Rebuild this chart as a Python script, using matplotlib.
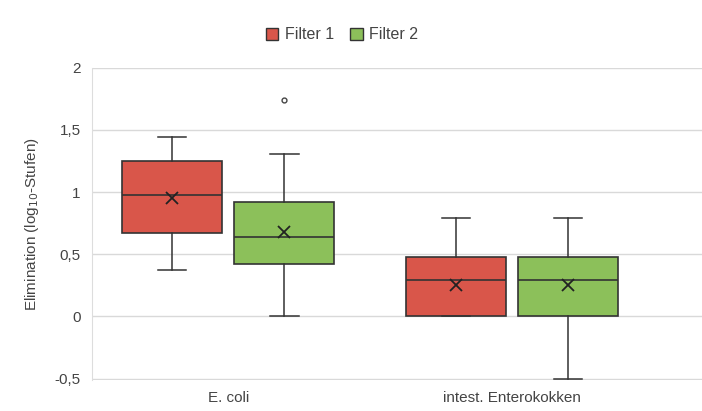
import matplotlib
matplotlib.use("Agg")
import matplotlib.pyplot as plt
from matplotlib.patches import Patch

categories = ["E. coli", "intest. Enterokokken"]
series = ["Filter 1", "Filter 2"]
colors = ["#d9564a", "#8cc05a"]

# [category][series]
whislo = [[0.37, 0.0], [0.0, -0.5]]
q1 = [[0.67, 0.42], [0.0, 0.0]]
med = [[0.975, 0.64], [0.29, 0.29]]
q3 = [[1.25, 0.92], [0.475, 0.475]]
whishi = [[1.44, 1.31], [0.79, 0.79]]
means = [[0.95, 0.675], [0.25, 0.25]]
fliers = [[[], [1.74]], [[], []]]

yticks = [-0.5, 0, 0.5, 1, 1.5, 2]
yticklabels = ["-0,5", "0", "0,5", "1", "1,5", "2"]

plt.rcParams['font.family'] = ['Liberation Sans', 'DejaVu Sans']
fig = plt.figure(figsize=(7.02, 4.11), dpi=100)
ax = fig.add_axes([0.131, 0.076, 0.869, 0.759])

offset = 0.198
width = 0.353
for ci in range(len(categories)):
    for si in range(len(series)):
        pos = ci + (si - 0.5) * 2 * offset
        st = dict(whislo=whislo[ci][si], q1=q1[ci][si], med=med[ci][si],
                  q3=q3[ci][si], whishi=whishi[ci][si], mean=means[ci][si],
                  fliers=fliers[ci][si])
        ax.bxp([st], positions=[pos], widths=width, patch_artist=True,
               showmeans=True, capwidths=0.1,
               boxprops=dict(facecolor=colors[si], edgecolor="#333333", linewidth=1.2),
               medianprops=dict(color="#333333", linewidth=1.2),
               whiskerprops=dict(color="#333333", linewidth=1.1),
               capprops=dict(color="#333333", linewidth=1.1),
               meanprops=dict(marker="x", markeredgecolor="#222222", markersize=8, markeredgewidth=1.3),
               flierprops=dict(marker="o", markerfacecolor="none", markeredgecolor="#444444", markersize=3.5))

ax.set_xlim(-0.48, 1.67)
ax.set_ylim(-0.51, 2)
ax.set_yticks(yticks)
ax.set_yticklabels(yticklabels)
ax.set_xticks(range(len(categories)))
ax.set_xticklabels(categories)
ax.tick_params(axis='both', length=0, labelsize=11, colors="#444444", pad=8)
ax.grid(axis='y', color="#d9d9d9", linewidth=1)
ax.set_axisbelow(True)
for s in ["top", "right", "bottom"]:
    ax.spines[s].set_visible(False)
ax.spines["left"].set_color("#dddddd")
ax.set_ylabel("Elimination (log$_{10}$-Stufen)", fontsize=11, color="#444444", labelpad=10)

handles = [Patch(facecolor=c, edgecolor="#333333", label=l) for c, l in zip(colors, series)]
fig.legend(handles=handles, loc="center", bbox_to_anchor=(0.487, 0.915), ncol=2, frameon=False,
           fontsize=11.5, handlelength=0.8, handleheight=0.8, handletextpad=0.4, columnspacing=1.0,
           labelcolor="#444444")

fig.savefig("out.png", dpi=100)
